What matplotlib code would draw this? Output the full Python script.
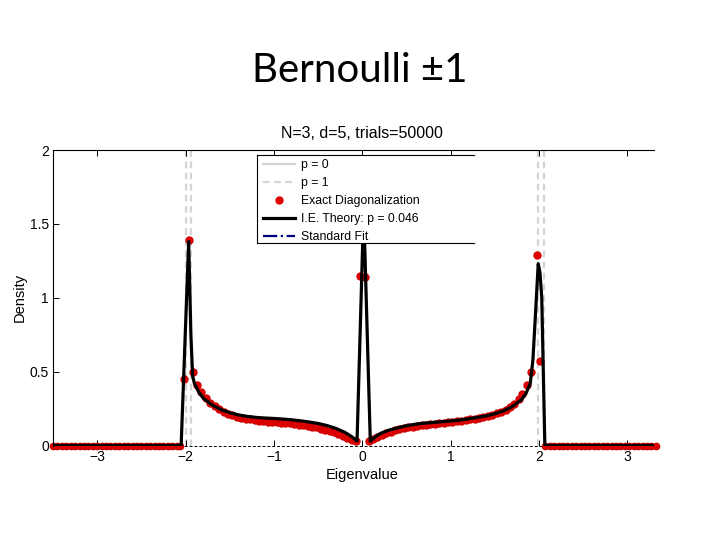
import matplotlib
matplotlib.use("Agg")
import matplotlib.pyplot as plt
from matplotlib.lines import Line2D
from matplotlib.patches import Rectangle

plt.rcParams['font.family'] = ['Liberation Sans', 'DejaVu Sans']

slide_title = "Bernoulli ±1"
plot_title = "N=3, d=5, trials=50000"
x_label = "Eigenvalue"
y_label = "Density"
legend_labels = ["p = 0", "p = 1", "Exact Diagonalization", "I.E. Theory: p = 0.046", "Standard Fit"]
x_ticks = [-3, -2, -1, 0, 1, 2, 3]
x_tick_labels = ["\u22123", "\u22122", "\u22121", "0", "1", "2", "3"]
y_ticks = [0, 0.5, 1, 1.5, 2]
y_tick_labels = ["0", "0.5", "1", "1.5", "2"]

# vertical reference lines (p = 0 / p = 1 edges)
edge_lines = [-1.99, -1.935, 1.99, 2.05]

# Exact diagonalization (red dots)
ed_tail_left_x = [-3.5, -3.45, -3.4, -3.35, -3.3, -3.25, -3.2, -3.15, -3.1, -3.05,
                  -3.0, -2.95, -2.9, -2.85, -2.8, -2.75, -2.7, -2.65, -2.6, -2.55,
                  -2.5, -2.45, -2.4, -2.35, -2.3, -2.25, -2.2, -2.15, -2.1, -2.06]
ed_mid_x = [-2.02, -1.965, -1.92, -1.87, -1.82, -1.77, -1.72, -1.67, -1.62, -1.57,
            -1.52, -1.47, -1.42, -1.37, -1.32, -1.27, -1.22, -1.17, -1.12, -1.07,
            -1.02, -0.97, -0.92, -0.87, -0.82, -0.77, -0.72, -0.67, -0.62, -0.57,
            -0.52, -0.47, -0.42, -0.37, -0.32, -0.27, -0.22, -0.17, -0.12, -0.07,
            -0.03, 0.03, 0.07, 0.12, 0.17, 0.22, 0.27, 0.32, 0.37, 0.42,
            0.47, 0.52, 0.57, 0.62, 0.67, 0.72, 0.77, 0.82, 0.87, 0.92,
            0.97, 1.02, 1.07, 1.12, 1.17, 1.22, 1.27, 1.32, 1.37, 1.42,
            1.47, 1.52, 1.57, 1.62, 1.67, 1.72, 1.77, 1.81, 1.86, 1.91,
            1.975, 2.015]
ed_mid_y = [0.45, 1.39, 0.50, 0.41, 0.36, 0.32, 0.29, 0.265, 0.245, 0.23,
            0.215, 0.205, 0.195, 0.188, 0.182, 0.177, 0.172, 0.168, 0.165, 0.162,
            0.16, 0.157, 0.155, 0.152, 0.149, 0.146, 0.142, 0.138, 0.133, 0.128,
            0.122, 0.115, 0.107, 0.098, 0.088, 0.078, 0.066, 0.054, 0.04, 0.028,
            1.15, 1.14, 0.03, 0.045, 0.06, 0.073, 0.084, 0.094, 0.103, 0.11,
            0.117, 0.123, 0.128, 0.133, 0.137, 0.141, 0.145, 0.148, 0.151, 0.154,
            0.157, 0.16, 0.164, 0.168, 0.172, 0.177, 0.182, 0.188, 0.194, 0.201,
            0.209, 0.218, 0.229, 0.243, 0.26, 0.283, 0.313, 0.35, 0.41, 0.50,
            1.29, 0.57]
ed_tail_right_x = [2.07, 2.12, 2.17, 2.22, 2.27, 2.32, 2.37, 2.42, 2.47, 2.52,
                   2.57, 2.62, 2.67, 2.72, 2.77, 2.82, 2.87, 2.92, 2.97, 3.02,
                   3.07, 3.12, 3.17, 3.22, 3.27, 3.32]

# I.E. theory (black line)
ie_x = [-3.6, -2.05, -1.965, -1.94, -1.92, -1.9, -1.85, -1.8, -1.7, -1.6,
        -1.5, -1.4, -1.3, -1.2, -1.1, -1.0, -0.9, -0.8, -0.7, -0.6,
        -0.5, -0.4, -0.3, -0.2, -0.12, -0.06, 0.015, 0.09, 0.15, 0.2,
        0.3, 0.4, 0.5, 0.6, 0.7, 0.8, 0.9, 1.0, 1.1, 1.2,
        1.3, 1.4, 1.5, 1.6, 1.7, 1.8, 1.85, 1.9, 1.93, 1.96,
        1.99, 2.01, 2.03, 2.065, 3.6]
ie_y = [0.0, 0.0, 1.38, 0.75, 0.47, 0.42, 0.36, 0.32, 0.275, 0.243,
        0.222, 0.207, 0.197, 0.19, 0.186, 0.183, 0.179, 0.174, 0.167, 0.159,
        0.149, 0.135, 0.116, 0.09, 0.06, 0.03, 1.6, 0.03, 0.06, 0.08,
        0.104, 0.12, 0.134, 0.144, 0.151, 0.156, 0.161, 0.166, 0.172, 0.18,
        0.19, 0.2, 0.215, 0.235, 0.265, 0.31, 0.35, 0.42, 0.58, 0.9,
        1.23, 1.17, 1.0, 0.0, 0.0]

fig = plt.figure(figsize=(7.2, 5.4), dpi=100)
fig.text(0.5, 1 - 70 / 540, slide_title, ha='center', va='center',
         fontsize=29, family=['Lato', 'DejaVu Sans'])

ax = fig.add_axes([53 / 720, 1 - 445.5 / 540, (654 - 53) / 720, (445.5 - 150) / 540])
ax.set_xlim(-3.5, 3.3)
ax.set_ylim(0, 2)

gray = '#d4d4d4'
for xv in edge_lines:
    ax.plot([xv, xv], [0, 2.1], color=gray, lw=1.6, ls=(0, (3, 2)), zorder=1)

ax.plot([-3.5, 3.3], [0, 0], color='black', lw=0.7, ls=(0, (3, 2)), zorder=1.5, clip_on=False)

ax.plot(ed_tail_left_x, [0] * len(ed_tail_left_x), 'o', color='#e00000', ms=4.5, mec='#c80000', zorder=2, clip_on=False)
ax.plot(ed_tail_right_x, [0] * len(ed_tail_right_x), 'o', color='#e00000', ms=4.5, mec='#c80000', zorder=2, clip_on=False)
ax.plot(ed_mid_x, ed_mid_y, 'o', color='#e00000', ms=5, mec='#d00000', zorder=2)
ax.plot(ie_x, ie_y, color='black', lw=2.3, zorder=3)

for s in ['right', 'bottom']:
    ax.spines[s].set_visible(False)
ax.spines['left'].set_linewidth(0.8)
ax.spines['top'].set_linewidth(0.8)

ax.set_xticks(x_ticks)
ax.set_xticklabels(x_tick_labels, fontsize=10)
ax.set_yticks(y_ticks)
ax.set_yticklabels(y_tick_labels, fontsize=10)
ax.tick_params(direction='in', length=4, width=0.7, top=True, right=False, pad=3)
cx = (362 - 53) / (654 - 53)
ax.set_xlabel(x_label, fontsize=10.5)
ax.xaxis.set_label_coords(cx, -0.075)
ax.set_ylabel(y_label, fontsize=10.5, labelpad=2)
ax.set_title(plot_title, fontsize=11.5, pad=9, x=cx)

# legend box (cropped on the right as in the reference)
L, T, B, R = 257, 155, 243, 474
fig.patches.append(Rectangle((L / 720, 1 - B / 540), (R - L) / 720, (B - T) / 540,
                             transform=fig.transFigure, facecolor='white', edgecolor='none', zorder=4))
for (x0, y0, x1, y1) in [(L, T, R, T), (L, B, R, B), (L, T, L, B)]:
    fig.lines.append(Line2D([x0 / 720, x1 / 720], [1 - y0 / 540, 1 - y1 / 540],
                            transform=fig.transFigure, color='black', lw=0.8, zorder=4.5))

handles = [Line2D([], [], color=gray, lw=1.6),
           Line2D([], [], color=gray, lw=1.6, ls=(0, (3, 2))),
           Line2D([], [], color='#e00000', marker='o', ls='none', ms=5),
           Line2D([], [], color='black', lw=2.3),
           Line2D([], [], color='#000080', lw=1.6, ls='-.')]
leg = fig.legend(handles, legend_labels, loc='upper left',
                 bbox_to_anchor=(263 / 720, 1 - 159 / 540),
                 frameon=False, fontsize=8.8, handlelength=2.6, handletextpad=0.5,
                 labelspacing=0.5, borderaxespad=0, borderpad=0)
leg.set_zorder(5)

fig.savefig('out.png', dpi=100)
